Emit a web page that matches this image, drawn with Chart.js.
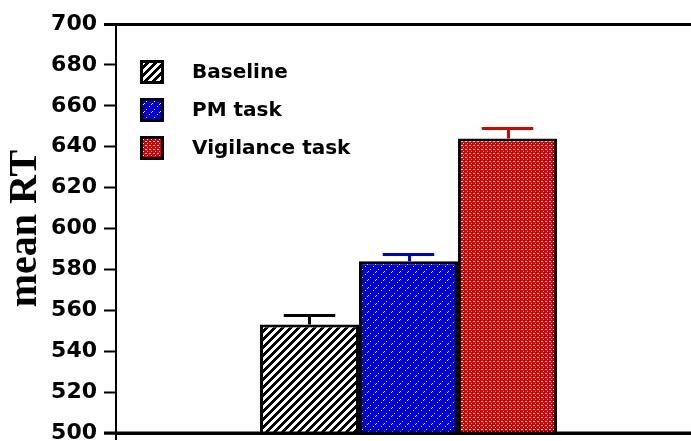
<!DOCTYPE html>
<html>
<head>
<meta charset="utf-8">
<script src="https://cdn.jsdelivr.net/npm/chart.js@4"></script>
<style>
html,body{margin:0;padding:0;background:#fff;overflow:hidden;}
canvas{display:block;}
</style>
</head>
<body>
<canvas id="c" width="701" height="441"></canvas>
<script>
const conditions = ['Baseline', 'PM task', 'Vigilance task'];
const meanRT = [553, 584, 644];
const errorUp = [4.7, 3.5, 5.2];
const barColors = ['#000000', '#0000D4', '#DD0000'];
const yMin = 500, yMax = 700, yStep = 20;
const yTitle = 'mean RT';

function makePattern(kind) {
  const c = document.createElement('canvas');
  const n = kind === 'red' ? 4 : 8;
  c.width = n; c.height = n;
  const g = c.getContext('2d');
  if (kind === 'hatch') {
    g.fillStyle = '#fff'; g.fillRect(0, 0, n, n);
    g.fillStyle = '#000';
    for (let y = 0; y < n; y++) for (let x = 0; x < n; x++) {
      if (((x + y) % 8) < 4) g.fillRect(x, y, 1, 1);
    }
  } else if (kind === 'blue') {
    g.fillStyle = '#0000D4'; g.fillRect(0, 0, n, n);
    g.fillStyle = '#fff';
    [[0,7],[2,5],[5,2],[7,0]].forEach(p => g.fillRect(p[0], p[1], 1, 1));
  } else {
    g.fillStyle = '#DD0000'; g.fillRect(0, 0, n, n);
    g.fillStyle = '#fff';
    g.fillRect(1, 1, 2, 1);
    g.fillRect(3, 3, 1, 1);
  }
  return document.getElementById('c').getContext('2d').createPattern(c, 'repeat');
}
const patterns = [makePattern('hatch'), makePattern('blue'), makePattern('red')];

const extrasPlugin = {
  id: 'extras',
  afterDatasetsDraw(chart) {
    const ctx = chart.ctx;
    const ya = chart.scales.y;
    const area = chart.chartArea;
    ctx.save();
    // error bars (upper only)
    chart.data.datasets.forEach((ds, i) => {
      const meta = chart.getDatasetMeta(i);
      const bar = meta.data[0];
      const yTop = ya.getPixelForValue(meanRT[i]);
      const yErr = ya.getPixelForValue(meanRT[i] + errorUp[i]);
      const half = bar.width * 0.26;
      ctx.strokeStyle = barColors[i];
      ctx.lineWidth = 3;
      ctx.beginPath();
      ctx.moveTo(Math.round(bar.x) + 0.5, yTop);
      ctx.lineTo(Math.round(bar.x) + 0.5, yErr);
      ctx.moveTo(bar.x - half, Math.round(yErr) + 0.5);
      ctx.lineTo(bar.x + half, Math.round(yErr) + 0.5);
      ctx.stroke();
    });
    // top frame line
    ctx.strokeStyle = '#000';
    ctx.lineWidth = 3;
    ctx.beginPath();
    ctx.moveTo(area.left - 12, area.top + 0.5);
    ctx.lineTo(chart.width, area.top + 0.5);
    ctx.stroke();
    // bottom axis extension
    ctx.beginPath();
    ctx.moveTo(area.left - 12, area.bottom);
    ctx.lineTo(chart.width, area.bottom);
    ctx.stroke();
    ctx.lineWidth = 2;
    ctx.beginPath();
    ctx.moveTo(area.left, area.bottom);
    ctx.lineTo(area.left, area.bottom + 7);
    ctx.stroke();
    // legend
    ctx.font = 'bold 20px "DejaVu Sans"';
    ctx.textBaseline = 'middle';
    ctx.textAlign = 'left';
    const rows = [72, 110, 148];
    conditions.forEach((name, i) => {
      const cy = rows[i];
      const bx = 140, bs = 24;
      ctx.fillStyle = '#000';
      ctx.fillRect(bx, cy - bs / 2, bs, bs);
      ctx.fillStyle = patterns[i];
      ctx.fillRect(bx + 3, cy - bs / 2 + 3, bs - 6, bs - 6);
      ctx.fillStyle = '#000';
      ctx.fillText(name, 192, cy + 1);
    });
    ctx.restore();
  }
};

new Chart(document.getElementById('c'), {
  type: 'bar',
  data: {
    labels: [''],
    datasets: conditions.map((name, i) => ({
      label: name,
      data: [meanRT[i]],
      backgroundColor: patterns[i],
      borderColor: '#000',
      borderWidth: 3,
      borderSkipped: false
    }))
  },
  options: {
    responsive: false,
    animation: false,
    devicePixelRatio: 1,
    categoryPercentage: 0.5077,
    barPercentage: 1,
    layout: { padding: { top: 24, bottom: 8, left: 0, right: 0 } },
    plugins: { legend: { display: false }, tooltip: { enabled: false } },
    scales: {
      x: {
        ticks: { display: false },
        grid: { display: false },
        border: { display: true, color: '#000', width: 3 },
        afterFit(s) { s.height = 0; s.paddingLeft = 0; s.paddingRight = 0; }
      },
      y: {
        min: yMin, max: yMax,
        ticks: {
          stepSize: yStep,
          color: '#000',
          padding: 7,
          font: { family: 'DejaVu Sans', weight: 'bold', size: 22 }
        },
        grid: {
          drawOnChartArea: false,
          drawTicks: true,
          tickLength: 12,
          tickWidth: 2,
          tickColor: '#000'
        },
        border: { display: true, color: '#000', width: 2 },
        title: {
          display: true,
          text: yTitle,
          color: '#000',
          padding: { top: 2, bottom: 0 },
          font: { family: 'Liberation Serif', weight: 'bold', size: 40 }
        },
        afterFit(s) { s.width = 116; s.paddingTop = 0; s.paddingBottom = 0; }
      }
    }
  },
  plugins: [extrasPlugin]
});
</script>
</body>
</html>
